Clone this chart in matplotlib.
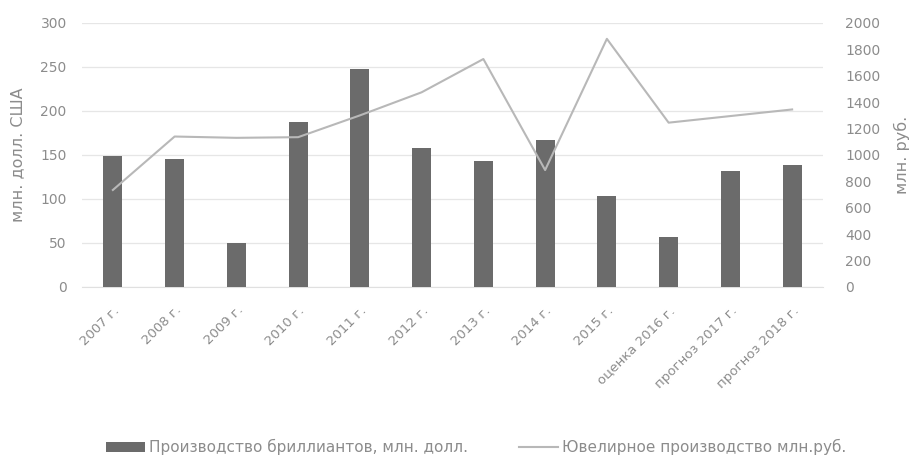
import matplotlib
matplotlib.use("Agg")
import matplotlib.pyplot as plt
import numpy as np

categories = ["2007 г.", "2008 г.", "2009 г.", "2010 г.", "2011 г.", "2012 г.", "2013 г.",
              "2014 г.", "2015 г.", "оценка 2016 г.", "прогноз 2017 г.", "прогноз 2018 г."]
diamonds_usd = [149, 146, 50, 187, 248, 158, 143, 167, 103, 57, 132, 139]
jewelry_rub = [735, 1140, 1130, 1135, 1300, 1475, 1727, 886, 1880, 1245, 1295, 1345]

plt.rcParams['font.family'] = ['DejaVu Sans']
txt = "#8c8c8c"

fig = plt.figure(figsize=(9.12, 4.55), dpi=100)
ax = fig.add_axes([82 / 912, 1 - 287 / 455, 741 / 912, 264 / 455])
ax2 = ax.twinx()

x = np.arange(len(categories))
b = ax.bar(x, diamonds_usd, width=0.31, color="#6b6b6b", zorder=3,
           label="Производство бриллиантов, млн. долл.")
l, = ax2.plot(x, jewelry_rub, color="#b8b8b8", lw=1.5, zorder=4,
              label="Ювелирное производство млн.руб.")

ax.set_xlim(-0.5, len(categories) - 0.5)
ax.set_ylim(0, 300)
ax.set_yticks(range(0, 301, 50))
ax2.set_ylim(0, 2000)
ax2.set_yticks(range(0, 2001, 200))
ax.yaxis.grid(True, color="#e6e6e6", lw=0.9, zorder=0)
ax.set_axisbelow(True)

for a in (ax, ax2):
    for s in a.spines.values():
        s.set_visible(False)
    a.tick_params(length=0, colors=txt, labelsize=10)
ax.spines['bottom'].set_visible(True)
ax.spines['bottom'].set_color("#e0e0e0")
ax.tick_params(axis='y', pad=11)
ax2.tick_params(axis='y', pad=16)
ax.tick_params(axis='x', pad=12)

ax.set_xticks(x)
ax.set_xticklabels(categories, rotation=45, ha="right", rotation_mode="anchor",
                   fontsize=9.5, color=txt)
ax.set_ylabel("млн. долл. США", color=txt, fontsize=11.5)
ax2.set_ylabel("млн. руб.", color=txt, fontsize=11.5, rotation=90)
ax.yaxis.set_label_coords(-0.076, 0.5)
ax2.yaxis.set_label_coords(1.096, 0.5)

fig.legend(handles=[b, l], loc="center", bbox_to_anchor=(476 / 912, 1 - 447 / 455), ncol=2,
           frameon=False, fontsize=11, labelcolor=txt, columnspacing=3.3,
           handlelength=2.6, handletextpad=0.25, handleheight=0.6)

fig.savefig("out.png", dpi=100)
